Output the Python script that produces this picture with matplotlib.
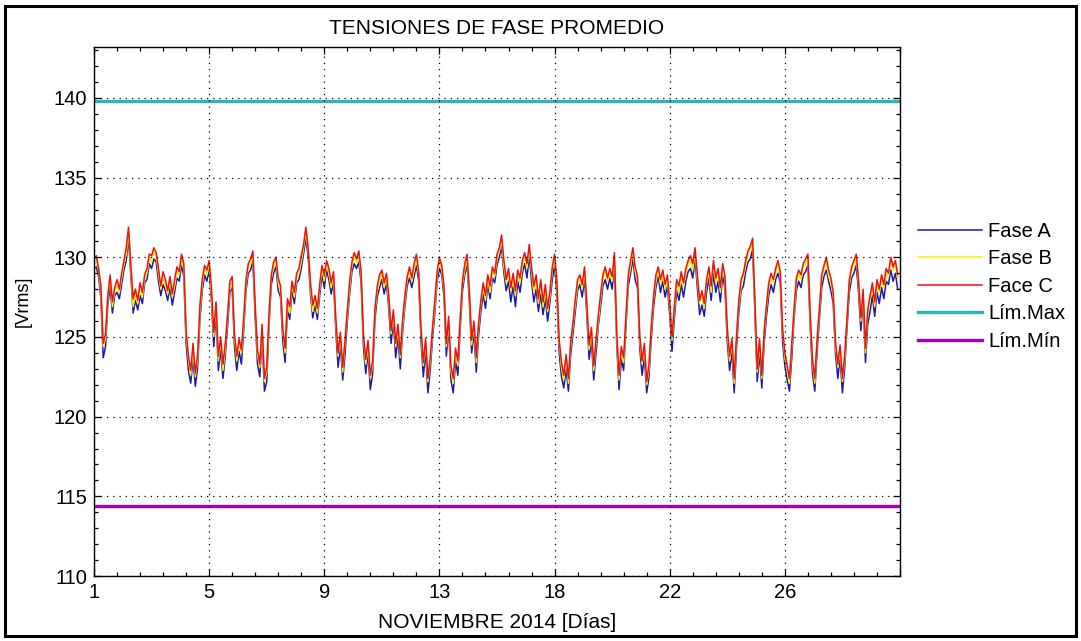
import numpy as np
import matplotlib
matplotlib.use("Agg")
import matplotlib.pyplot as plt
from matplotlib.patches import Rectangle
from matplotlib.ticker import MultipleLocator

# Promedios de tension por fase, una muestra cada 2 horas (1-30 nov 2014)
fase_a = [
    129.3, 129.4, 128.8, 127.4, 123.7, 124.4, 127.0, 128.2, 126.5, 127.6, 127.8, 127.4,
    128.3, 129.2, 129.8, 131.2, 128.9, 126.5, 127.3, 126.7, 127.6, 127.1, 128.4, 128.6,
    129.6, 129.3, 129.9, 129.7, 128.5, 127.6, 128.3, 127.9, 127.3, 128.1, 127.0, 127.8,
    128.7, 128.5, 129.5, 128.8, 124.6, 122.9, 122.1, 123.7, 121.9, 123.1, 126.1, 127.9,
    128.9, 128.5, 129.2, 127.3, 124.4, 126.5, 122.9, 124.2, 122.4, 123.8, 125.7, 127.8,
    128.1, 124.4, 122.9, 124.1, 123.3, 125.4, 127.9, 129.0, 129.2, 129.8, 126.2, 123.3,
    122.5, 125.1, 121.6, 122.2, 125.7, 128.3, 129.0, 129.4, 127.9, 127.5, 124.7, 123.4,
    126.7, 126.1, 127.9, 127.1, 128.4, 128.6, 129.3, 130.2, 131.2, 130.0, 127.7, 126.2,
    127.0, 126.1, 127.6, 128.9, 128.1, 129.2, 128.6, 127.7, 128.5, 125.4, 123.1, 124.5,
    122.3, 123.9, 126.0, 127.7, 129.1, 129.6, 129.3, 129.7, 128.4, 124.4, 122.7, 124.0,
    121.7, 122.7, 126.1, 127.5, 128.1, 128.6, 127.7, 128.4, 126.8, 124.6, 126.0, 123.7,
    125.0, 123.0, 125.3, 126.9, 128.2, 128.7, 128.1, 128.8, 129.5, 128.5, 124.8, 122.5,
    124.1, 121.5, 122.9, 124.9, 126.5, 128.5, 129.3, 128.9, 127.5, 123.8, 125.6, 122.3,
    121.5, 123.5, 122.6, 125.5, 127.9, 128.9, 129.6, 127.2, 124.0, 125.3, 122.8, 125.1,
    126.6, 127.7, 126.8, 128.3, 127.4, 128.7, 128.4, 129.5, 130.0, 130.7, 129.0, 127.9,
    128.5, 127.2, 128.2, 126.9, 128.5, 127.8, 129.0, 129.6, 128.7, 130.1, 128.5, 127.2,
    128.0, 126.6, 127.7, 126.4, 127.4, 126.0, 127.2, 128.6, 129.5, 127.7, 124.0, 122.5,
    121.8, 123.0, 121.6, 123.9, 125.2, 126.6, 127.9, 128.3, 127.5, 128.7, 126.4, 123.6,
    124.8, 122.3, 124.0, 125.7, 126.9, 128.2, 128.6, 128.0, 128.7, 128.0, 129.6, 124.5,
    121.7, 123.6, 122.9, 125.7, 128.2, 129.0, 129.9, 128.6, 128.1, 124.3, 122.6, 123.8,
    121.5, 122.5, 124.9, 126.9, 128.1, 128.8, 127.8, 128.5, 127.5, 128.2, 126.4, 124.1,
    126.1, 127.9, 127.3, 128.3, 127.5, 128.5, 129.1, 129.3, 128.7, 129.9, 128.1, 126.4,
    127.0, 126.3, 127.8, 128.7, 127.3, 129.0, 127.8, 128.5, 127.2, 128.9, 128.0, 124.7,
    122.9, 124.1, 121.5, 124.3, 126.5, 127.9, 128.2, 129.1, 129.7, 129.9, 130.5, 126.5,
    122.2, 124.0, 121.8, 124.6, 126.3, 127.6, 128.3, 127.8, 128.6, 129.0, 128.4, 124.7,
    123.2, 122.3, 121.6, 123.7, 126.1, 127.9, 128.5, 128.1, 128.9, 129.1, 129.5, 125.7,
    122.7, 121.6, 124.1, 126.1, 128.1, 128.8, 129.2, 128.5, 127.9, 127.1, 123.9, 122.4,
    123.7, 121.5, 123.1, 125.6, 127.8, 128.7, 129.0, 129.5, 127.8, 125.4, 127.3, 123.4,
    125.8, 126.6, 127.6, 126.3, 127.8, 127.1, 128.1, 127.4, 128.5, 128.3, 129.2, 128.5,
    129.0, 128.0,
]

fase_b = [
    129.7, 129.8, 129.2, 127.8, 124.4, 124.9, 127.4, 128.8, 126.9, 127.9, 128.2, 127.8,
    128.7, 129.6, 130.2, 131.6, 129.3, 126.9, 127.7, 127.1, 128.0, 127.5, 128.7, 129.0,
    130.0, 129.7, 130.3, 130.1, 129.0, 128.0, 128.7, 128.3, 127.7, 128.5, 127.5, 128.2,
    129.1, 128.9, 129.9, 129.2, 125.1, 123.6, 122.6, 124.2, 122.5, 123.6, 126.6, 128.3,
    129.3, 128.9, 129.6, 127.7, 125.0, 127.0, 123.5, 124.8, 122.9, 124.3, 126.2, 128.2,
    128.5, 125.0, 123.5, 124.6, 124.0, 125.8, 128.3, 129.4, 129.6, 130.1, 126.8, 123.9,
    123.1, 125.5, 122.2, 122.8, 126.1, 128.7, 129.4, 129.8, 128.4, 127.8, 125.3, 124.0,
    127.1, 126.5, 128.3, 127.5, 128.8, 129.0, 129.7, 130.6, 131.6, 130.4, 128.1, 126.6,
    127.4, 126.5, 128.0, 129.3, 128.5, 129.6, 129.0, 128.1, 128.9, 125.9, 123.8, 125.0,
    122.8, 124.6, 126.4, 128.1, 129.5, 130.0, 129.7, 130.1, 128.8, 125.0, 123.3, 124.4,
    122.4, 123.2, 126.6, 127.9, 128.5, 129.0, 128.1, 128.8, 127.3, 125.2, 126.4, 124.4,
    125.5, 123.7, 125.7, 127.3, 128.6, 129.1, 128.5, 129.2, 129.9, 128.9, 125.3, 123.2,
    124.7, 122.2, 123.4, 125.3, 126.9, 128.9, 129.7, 129.3, 127.9, 124.4, 125.9, 122.9,
    122.1, 124.1, 123.2, 125.9, 128.3, 129.2, 129.9, 127.7, 124.5, 125.8, 123.4, 125.6,
    127.1, 128.1, 127.3, 128.7, 127.8, 129.1, 128.8, 129.9, 130.4, 131.1, 129.4, 128.4,
    129.0, 127.9, 128.6, 127.6, 129.0, 128.4, 129.4, 130.1, 129.3, 130.6, 129.1, 127.8,
    128.7, 127.1, 128.4, 126.9, 127.9, 126.6, 127.6, 129.2, 129.9, 128.2, 124.6, 123.1,
    122.3, 123.7, 122.1, 124.4, 125.7, 127.0, 128.3, 128.7, 128.0, 129.2, 126.9, 124.2,
    125.4, 122.9, 124.6, 126.0, 127.4, 128.7, 129.1, 128.5, 129.0, 128.5, 130.1, 125.0,
    122.3, 124.2, 123.4, 126.2, 128.6, 129.4, 130.4, 129.1, 128.6, 124.8, 123.3, 124.3,
    122.0, 123.0, 125.4, 127.4, 128.5, 129.2, 128.3, 129.0, 128.0, 128.7, 126.9, 124.8,
    126.6, 128.4, 127.8, 128.8, 128.2, 129.0, 129.6, 129.8, 129.2, 130.4, 128.6, 127.1,
    127.7, 126.8, 128.4, 129.1, 127.8, 129.6, 128.4, 129.1, 127.8, 129.4, 128.5, 125.3,
    123.5, 124.7, 122.1, 124.9, 127.0, 128.2, 128.8, 129.5, 130.2, 130.4, 131.0, 127.0,
    122.8, 124.6, 122.4, 125.1, 126.8, 128.1, 128.6, 128.4, 129.0, 129.6, 128.8, 125.4,
    123.7, 123.0, 122.1, 124.4, 126.4, 128.4, 129.0, 128.6, 129.4, 129.6, 130.0, 126.2,
    123.4, 122.1, 124.7, 126.5, 128.7, 129.2, 129.8, 128.8, 128.4, 127.6, 124.4, 123.1,
    124.2, 122.2, 123.6, 126.1, 128.3, 129.2, 129.5, 130.0, 128.3, 126.0, 127.7, 124.0,
    126.5, 127.3, 128.2, 126.9, 128.2, 127.8, 128.6, 128.1, 129.0, 128.8, 129.7, 129.2,
    129.5, 128.7,
]

fase_c = [
    129.9, 130.1, 129.3, 128.2, 124.6, 125.2, 127.6, 128.9, 127.2, 128.1, 128.6, 128.0,
    129.0, 129.8, 130.6, 131.9, 129.5, 127.4, 128.0, 127.3, 128.4, 127.8, 128.9, 129.3,
    130.2, 130.1, 130.6, 130.3, 129.3, 128.2, 129.1, 128.6, 127.9, 128.8, 127.7, 128.6,
    129.4, 129.1, 130.2, 129.6, 125.4, 123.8, 122.9, 124.6, 122.7, 123.9, 127.0, 128.6,
    129.5, 129.2, 129.8, 128.1, 125.3, 127.2, 123.8, 125.0, 123.3, 124.6, 126.4, 128.5,
    128.8, 125.2, 123.8, 124.9, 124.2, 126.2, 128.6, 129.6, 129.9, 130.4, 127.0, 124.2,
    123.3, 125.8, 122.4, 123.1, 126.5, 128.9, 129.7, 130.0, 128.7, 128.2, 125.5, 124.3,
    127.4, 126.9, 128.5, 127.8, 129.0, 129.3, 130.1, 130.8, 131.9, 130.6, 128.4, 127.0,
    127.6, 126.8, 128.3, 129.5, 128.9, 129.8, 129.3, 128.4, 129.1, 126.2, 124.0, 125.3,
    123.1, 124.8, 126.7, 128.5, 129.7, 130.3, 129.9, 130.4, 129.1, 125.2, 123.6, 124.8,
    122.6, 123.5, 126.8, 128.2, 128.9, 129.2, 128.4, 129.0, 127.6, 125.4, 126.7, 124.6,
    125.8, 123.9, 126.1, 127.6, 128.8, 129.4, 128.7, 129.6, 130.2, 129.1, 125.6, 123.4,
    124.9, 122.4, 123.7, 125.6, 127.3, 129.1, 130.0, 129.5, 128.2, 124.6, 126.3, 123.2,
    122.4, 124.3, 123.5, 126.2, 128.5, 129.6, 130.2, 127.9, 124.8, 126.0, 123.7, 125.9,
    127.3, 128.4, 127.6, 128.9, 128.2, 129.4, 129.0, 130.2, 130.6, 131.4, 129.8, 128.6,
    129.3, 128.1, 129.0, 127.9, 129.2, 128.7, 129.8, 130.3, 129.6, 130.8, 129.4, 128.2,
    128.9, 127.4, 128.6, 127.2, 128.3, 126.8, 127.9, 129.4, 130.2, 128.6, 124.8, 123.4,
    122.6, 123.9, 122.4, 124.7, 125.9, 127.4, 128.6, 128.9, 128.3, 129.4, 127.2, 124.5,
    125.6, 123.2, 124.8, 126.4, 127.7, 128.9, 129.4, 128.7, 129.3, 128.8, 130.3, 125.3,
    122.6, 124.4, 123.7, 126.4, 128.9, 129.8, 130.6, 129.4, 128.8, 125.1, 123.5, 124.6,
    122.2, 123.3, 125.7, 127.6, 128.9, 129.4, 128.6, 129.2, 128.3, 128.9, 127.2, 125.0,
    126.9, 128.6, 128.2, 129.1, 128.4, 129.3, 129.8, 130.1, 129.6, 130.6, 128.9, 127.3,
    127.9, 127.1, 128.6, 129.4, 128.2, 129.8, 128.7, 129.3, 128.1, 129.6, 128.8, 125.6,
    123.8, 124.9, 122.4, 125.1, 127.3, 128.6, 129.0, 129.8, 130.4, 130.7, 131.2, 127.3,
    123.0, 124.9, 122.6, 125.4, 127.0, 128.4, 129.0, 128.6, 129.3, 129.8, 129.1, 125.6,
    124.0, 123.2, 122.4, 124.6, 126.8, 128.7, 129.2, 128.9, 129.6, 129.9, 130.2, 126.5,
    123.6, 122.4, 124.9, 126.8, 128.9, 129.5, 130.0, 129.2, 128.7, 127.8, 124.7, 123.3,
    124.5, 122.4, 123.9, 126.3, 128.6, 129.4, 129.8, 130.2, 128.6, 126.2, 128.0, 124.3,
    126.7, 127.6, 128.4, 127.2, 128.6, 128.0, 128.9, 128.3, 129.3, 129.0, 130.0, 129.4,
    129.8, 128.9,
]

lim_max = 139.8
lim_min = 114.4

series_names = ["Fase A", "Fase B", "Face C"]
limit_names = ["Lím.Max", "Lím.Mín"]

# Eje X en horas desde el inicio del mes; etiquetas en dias
tick_hours = [0, 100, 200, 300, 400, 500, 600, 700]
tick_labels = ["1", "5", "9", "13", "18", "22", "26", ""]

hours = np.arange(len(fase_c)) * 2

plt.rcParams["font.family"] = ["Liberation Sans", "DejaVu Sans"]

fig = plt.figure(figsize=(10.81, 6.41), dpi=100)
fig.patch.set_facecolor("white")

ax = fig.add_axes([94 / 1081, 1 - 576 / 641, 806 / 1081, 529 / 641])

ax.plot(hours, fase_a, color="#1a1aa8", lw=1.1, label=series_names[0])
ax.plot(hours, fase_b, color="#ffee00", lw=1.1, label=series_names[1])
ax.plot(hours, fase_c, color="#ee1111", lw=1.1, label=series_names[2])
ax.axhline(lim_max, color="#30b4b4", lw=2.4, label=limit_names[0])
ax.axhline(lim_min, color="#a000c8", lw=2.4, label=limit_names[1])

ax.set_xlim(0, 700)
ax.set_ylim(110, 143.2)
ax.set_xticks(tick_hours)
ax.set_xticklabels(tick_labels)
ax.xaxis.set_minor_locator(MultipleLocator(20))
ax.yaxis.set_major_locator(MultipleLocator(5))
ax.yaxis.set_minor_locator(MultipleLocator(1))

ax.tick_params(which="both", direction="in", top=True, right=True,
               width=0.9, colors="black", labelsize=14.5)
ax.tick_params(which="major", length=5, pad=5)
ax.tick_params(which="minor", length=3)
for s in ax.spines.values():
    s.set_linewidth(1.0)

ax.grid(True, which="major", color="black", linestyle=(0, (1, 4)), linewidth=0.9)
ax.set_axisbelow(False)

ax.set_title("TENSIONES DE FASE PROMEDIO", fontsize=15, pad=9)
ax.set_xlabel("NOVIEMBRE 2014 [Días]", fontsize=15, labelpad=8)
ax.set_ylabel("[Vrms]", fontsize=13)
ax.yaxis.set_label_coords(-0.077, 0.52)

ax.legend(loc="upper left", bbox_to_anchor=(918 / 1081, 1 - 222 / 641),
          bbox_transform=fig.transFigure, frameon=False, fontsize=14.5,
          handlelength=3.2, handletextpad=0.3, labelspacing=0.42,
          borderpad=0, borderaxespad=0)

# Marco exterior de la figura
fig.add_artist(Rectangle((5 / 1081, 5 / 641), 1071 / 1081, 630 / 641,
                         transform=fig.transFigure, fill=False,
                         edgecolor="black", lw=2.2))

fig.savefig("out.png", dpi=100, facecolor="white")
